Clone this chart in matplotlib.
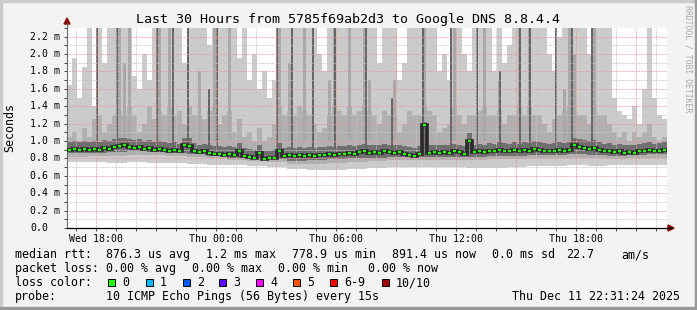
import matplotlib
matplotlib.use("Agg")
import matplotlib.pyplot as plt
import matplotlib.patches as patches
import matplotlib.transforms as mtransforms
from matplotlib.lines import Line2D
import numpy as np

plt.rcParams['font.family'] = 'DejaVu Sans Mono'

W, H = 697, 310

# time axis in hours since Wed 00:00, one bin = 15 min
t_start = 16.55
bin_h = 0.25

# median rtt per bin (ms)
median = [0.90, 0.91, 0.90, 0.91, 0.90, 0.91, 0.90, 0.92, 0.91, 0.93,
          0.94, 0.95, 0.93, 0.92, 0.93, 0.91, 0.92, 0.90, 0.91, 0.90,
          0.89, 0.90, 0.88, 0.95, 0.94, 0.89, 0.87, 0.88, 0.86, 0.85,
          0.85, 0.84, 0.85, 0.84, 0.89, 0.83, 0.82, 0.81, 0.86, 0.79,
          0.80, 0.81, 0.89, 0.83, 0.84, 0.83, 0.84, 0.83, 0.84, 0.83,
          0.84, 0.84, 0.85, 0.84, 0.85, 0.85, 0.86, 0.85, 0.87, 0.88,
          0.86, 0.87, 0.86, 0.88, 0.87, 0.86, 0.87, 0.85, 0.84, 0.83,
          0.85, 1.19, 0.86, 0.87, 0.86, 0.87, 0.86, 0.88, 0.87, 0.85,
          1.00, 0.87, 0.88, 0.87, 0.89, 0.88, 0.90, 0.89, 0.88, 0.90,
          0.88, 0.90, 0.89, 0.91, 0.90, 0.89, 0.88, 0.89, 0.90, 0.89,
          0.90, 0.95, 0.93, 0.92, 0.91, 0.92, 0.90, 0.88, 0.89, 0.87,
          0.88, 0.86, 0.87, 0.86, 0.88, 0.89, 0.90, 0.88, 0.89, 0.90]

# smoke: highest ping per bin
smoke_max = [1.65, 1.95, 1.50, 1.85, 2.30, 1.40, 2.30, 1.90, 2.30, 2.30,
             2.30, 2.30, 2.30, 1.75, 1.60, 2.00, 1.70, 2.30, 2.30, 2.30,
             2.30, 2.30, 2.30, 1.90, 2.30, 2.30, 2.30, 2.30, 2.10, 2.30,
             2.30, 2.30, 2.30, 2.30, 1.95, 2.30, 1.70, 2.00, 1.60, 1.80,
             1.50, 1.70, 2.30, 2.30, 2.30, 2.30, 2.30, 2.30, 2.30, 2.30,
             2.00, 1.80, 2.30, 2.30, 2.30, 2.30, 2.30, 2.30, 2.30, 2.30,
             2.30, 2.30, 1.90, 2.30, 2.30, 2.30, 1.70, 1.90, 2.30, 2.30,
             2.30, 2.30, 2.30, 2.30, 1.80, 2.00, 1.70, 2.30, 2.30, 2.00,
             1.80, 2.30, 2.30, 2.30, 2.30, 1.80, 2.30, 1.90, 2.10, 2.30,
             2.30, 2.30, 2.30, 2.30, 2.30, 2.30, 2.00, 1.80, 2.20, 2.30,
             2.30, 2.30, 2.30, 2.30, 2.00, 2.30, 2.30, 2.30, 2.30, 1.50,
             1.35, 1.30, 1.25, 1.40, 1.20, 1.60, 2.30, 1.50, 1.30, 1.25]

# smoke: second layer top
smoke_hi2 = [1.05, 1.10, 1.00, 1.15, 1.05, 1.25, 1.30, 1.10, 1.20, 1.30,
             1.35, 1.30, 1.40, 1.30, 1.10, 1.20, 1.40, 1.25, 1.35, 1.30,
             1.40, 1.30, 1.35, 1.20, 1.40, 1.30, 1.30, 1.25, 1.35, 1.40,
             1.20, 1.30, 1.35, 1.10, 1.25, 1.05, 1.10, 1.00, 1.15, 1.00,
             1.05, 1.20, 1.40, 1.30, 1.35, 1.30, 1.40, 1.35, 1.30, 1.20,
             1.10, 1.15, 1.30, 1.40, 1.35, 1.30, 1.40, 1.30, 1.35, 1.40,
             1.35, 1.30, 1.20, 1.35, 1.30, 1.30, 1.10, 1.20, 1.35, 1.30,
             1.30, 1.40, 1.35, 1.30, 1.10, 1.15, 1.20, 1.40, 1.30, 1.20,
             1.30, 1.30, 1.35, 1.40, 1.30, 1.30, 1.35, 1.20, 1.30, 1.30,
             1.40, 1.30, 1.40, 1.30, 1.30, 1.20, 1.10, 1.25, 1.30, 1.35,
             1.40, 1.35, 1.30, 1.30, 1.20, 1.40, 1.30, 1.30, 1.20, 1.10,
             1.05, 1.10, 1.00, 1.10, 1.05, 1.10, 1.20, 1.05, 1.00, 1.05]

# smoke: third (darker) layer top
smoke_hi3 = [0.99, 1.00, 0.99, 1.00, 0.99, 1.00, 0.99, 1.01, 1.00, 1.02,
             1.03, 1.04, 1.02, 1.01, 1.02, 1.00, 1.01, 0.99, 1.00, 0.99,
             0.98, 0.99, 0.97, 1.04, 1.03, 0.98, 0.96, 0.97, 0.95, 0.94,
             0.94, 0.93, 0.94, 0.93, 0.98, 0.92, 0.91, 0.90, 0.95, 0.88,
             0.89, 0.90, 0.98, 0.92, 0.93, 0.92, 0.93, 0.92, 0.93, 0.92,
             0.93, 0.93, 0.94, 0.93, 0.94, 0.94, 0.95, 0.94, 0.96, 0.97,
             0.95, 0.96, 0.95, 0.97, 0.96, 0.95, 0.96, 0.94, 0.93, 0.92,
             0.94, 1.22, 0.95, 0.96, 0.95, 0.96, 0.95, 0.97, 0.96, 0.94,
             1.09, 0.96, 0.97, 0.96, 0.98, 0.97, 0.99, 0.98, 0.97, 0.99,
             0.97, 0.99, 0.98, 1.00, 0.99, 0.98, 0.97, 0.98, 0.99, 0.98,
             0.99, 1.04, 1.02, 1.01, 1.00, 1.01, 0.99, 0.97, 0.98, 0.96,
             0.97, 0.95, 0.96, 0.95, 0.97, 0.98, 0.99, 0.97, 0.98, 0.99]

# lower smoke edges, hourly
smoke_lo1 = [0.76, 0.76, 0.75, 0.76, 0.75, 0.75, 0.74, 0.73, 0.72, 0.71,
             0.70, 0.68, 0.67, 0.67, 0.68, 0.69, 0.70, 0.70, 0.70, 0.70,
             0.69, 0.69, 0.70, 0.71, 0.71, 0.72, 0.71, 0.72, 0.73, 0.73]
smoke_lo2 = [0.82, 0.83, 0.83, 0.84, 0.84, 0.83, 0.82, 0.80, 0.78, 0.77,
             0.76, 0.74, 0.74, 0.75, 0.76, 0.77, 0.78, 0.78, 0.78, 0.78,
             0.78, 0.79, 0.79, 0.80, 0.80, 0.81, 0.80, 0.79, 0.80, 0.81]
smoke_lo3 = [0.86, 0.86, 0.87, 0.88, 0.87, 0.86, 0.85, 0.83, 0.81, 0.80,
             0.79, 0.77, 0.78, 0.79, 0.80, 0.81, 0.82, 0.82, 0.82, 0.82,
             0.82, 0.83, 0.83, 0.84, 0.84, 0.85, 0.84, 0.83, 0.84, 0.85]

# single outlier pings (narrow streaks)
mid_streak_t = [19.18, 19.43, 19.68, 21.18, 21.68, 23.18, 23.93, 24.68, 27.18, 27.68,
                28.43, 29.68, 29.93, 30.68, 31.43, 31.68, 32.93, 34.43, 35.93, 37.43,
                38.18, 39.18, 39.68, 41.43, 41.68, 41.93, 42.93]
mid_streak_top = [2.30, 1.90, 2.30, 2.30, 2.30, 1.80, 2.30, 2.30, 2.30, 1.90,
                  2.30, 1.70, 2.30, 2.30, 2.30, 1.70, 1.70, 2.30, 2.30, 2.30,
                  1.70, 2.30, 2.30, 1.60, 2.30, 2.00, 2.30]
dark_streak_t = [18.05, 19.05, 21.05, 21.85, 22.60, 23.65, 24.05, 27.05, 27.80, 28.85,
                 29.95, 31.50, 32.80, 34.35, 35.75, 37.05, 38.20, 39.20, 39.70, 41.00,
                 41.80, 42.80]
dark_streak_top = [2.30, 2.30, 2.30, 2.30, 2.30, 1.60, 2.30, 2.30, 2.30, 2.30,
                   2.30, 2.30, 1.50, 2.30, 2.30, 2.30, 1.80, 2.30, 2.30, 2.30,
                   2.30, 2.30]

x_ticks = [18, 24, 30, 36, 42]
x_labels = ["Wed 18:00", "Thu 00:00", "Thu 06:00", "Thu 12:00", "Thu 18:00"]
y_ticks = [0.0, 0.2, 0.4, 0.6, 0.8, 1.0, 1.2, 1.4, 1.6, 1.8, 2.0, 2.2]

title = "Last 30 Hours from 5785f69ab2d3 to Google DNS 8.8.4.4"
loss_labels = ["0", "1", "2", "3", "4", "5", "6-9", "10/10"]
loss_colors = ["#26ff00", "#00b8ff", "#0059ff", "#5e00ff", "#ff00ff",
               "#ff5500", "#ff0000", "#a10000"]

median = np.array(median)
n = len(median)
edges = t_start + bin_h * np.arange(n + 1)
centers = edges[:-1] + bin_h / 2
lo1 = np.repeat(smoke_lo1, 4)
lo2 = np.repeat(smoke_lo2, 4)
lo3 = np.repeat(smoke_lo3, 4)
hi1 = np.array(smoke_max)
hi2 = np.array(smoke_hi2)
hi3 = np.array(smoke_hi3)

fig = plt.figure(figsize=(W / 100, H / 100), dpi=100, facecolor='#f3f3f3')
ax = fig.add_axes([67 / W, (H - 228) / H, 600 / W, 200 / H])
ax.set_facecolor('white')

# smoke layers
ax.bar(centers, hi1 - lo1, bottom=lo1, width=bin_h, color='#cbcbcb', linewidth=0, antialiased=False, zorder=1)
ax.bar(centers, hi2 - lo2, bottom=lo2, width=bin_h, color='#b0b0b0', linewidth=0, antialiased=False, zorder=1.1)
ax.bar(mid_streak_t, np.array(mid_streak_top) - 1.0, bottom=1.0, width=0.14, color='#a8a8a8',
       linewidth=0, antialiased=False, zorder=1.1)
ax.bar(centers, hi3 - lo3, bottom=lo3, width=bin_h, color='#707070', linewidth=0, antialiased=False, zorder=1.2)
ax.bar(dark_streak_t, np.array(dark_streak_top) - 0.9, bottom=0.9, width=0.07, color='#666666',
       linewidth=0, antialiased=False, zorder=1.2)

# grid on top of the smoke
dots = (0, (0.72, 0.72))
for h in range(17, 47):
    if h % 3 == 0:
        ax.axvline(h, color='#e59a9a', lw=0.72, ls=dots, zorder=2)
    else:
        ax.axvline(h, color='#c4c4c4', lw=0.72, ls=dots, zorder=2)
for k in range(1, 23):
    v = k / 10
    if k % 2 == 0:
        ax.axhline(v, color='#e59a9a', lw=0.72, ls=dots, zorder=2)
    else:
        ax.axhline(v, color='#c4c4c4', lw=0.72, ls=dots, zorder=2)

# median
ax.stairs(median, edges, baseline=None, color='#2a2a2a', lw=2.6, zorder=3)
ax.hlines(median, edges[:-1] + 0.03, edges[1:] - 0.03, color=loss_colors[0], lw=1.6, zorder=4)

ax.set_xlim(t_start, t_start + 30)
ax.set_ylim(0, 2.3)
for s in ['top', 'right']:
    ax.spines[s].set_visible(False)
ax.spines['left'].set_color('#666666')
ax.spines['left'].set_linewidth(0.8)
ax.spines['bottom'].set_color('black')
ax.spines['bottom'].set_linewidth(0.9)

ax.set_xticks(x_ticks)
ax.set_xticklabels(x_labels)
ax.set_xticks(range(17, 47), minor=True)
ax.tick_params(axis='x', which='both', direction='out', length=2, width=0.7,
               color='#444444', labelsize=7.1, pad=2.5)
ax.set_yticks(np.arange(0, 2.31, 0.1), minor=True)
ax.set_yticks(y_ticks)
ax.set_yticklabels([])
ax.tick_params(axis='y', which='both', direction='out', length=2, width=0.7, color='#444444')

ytr = mtransforms.blended_transform_factory(fig.transFigure, ax.transData)
for v in y_ticks:
    lab = "0.0" if v == 0 else "%.1f m" % v
    ax.text(30 / W, v, lab, transform=ytr, ha='left', va='center', fontsize=7.1)

# axis extensions with arrows
fig.add_artist(Line2D([67 / W, 67 / W], [1 - 28 / H, 1 - 23 / H], color='#666666', lw=0.8))
fig.add_artist(Line2D([667 / W, 672 / W], [1 - 228 / H, 1 - 228 / H], color='black', lw=0.9))
fig.add_artist(patches.Polygon([[64 / W, 1 - 24 / H], [70 / W, 1 - 24 / H], [67 / W, 1 - 18 / H]],
                               closed=True, color='#8b0000', transform=fig.transFigure))
fig.add_artist(patches.Polygon([[668 / W, 1 - 225 / H], [668 / W, 1 - 231 / H], [674 / W, 1 - 228 / H]],
                               closed=True, color='#8b0000', transform=fig.transFigure))

# title and labels
fig.text(0.5, 1 - 19 / H, title, ha='center', va='center', fontsize=9.6)
fig.text(10 / W, 1 - 127 / H, "Seconds", rotation=90, ha='center', va='center', fontsize=8.4)
fig.text(688 / W, 1 - 59 / H, "RRDTOOL / TOBI OETIKER", rotation=270, ha='center', va='center',
         fontsize=5.9, color='#a8a8a8')

# legend block
fs = 8.4
def ftxt(x, y, s):
    fig.text(x / W, 1 - y / H, s, ha='left', va='center', fontsize=fs)

y1, y2, y3, y4 = 254.5, 268.5, 282.5, 296.5
ftxt(15, y1, "median rtt:")
ftxt(106, y1, "876.3 us avg")
ftxt(206, y1, "1.2 ms max")
ftxt(292, y1, "778.9 us min")
ftxt(392, y1, "891.4 us now")
ftxt(492, y1, "0.0 ms sd")
ftxt(566, y1, "22.7")
ftxt(621, y1, "am/s")

ftxt(15, y2, "packet loss:")
ftxt(106, y2, "0.00 % avg")
ftxt(192, y2, "0.00 % max")
ftxt(278, y2, "0.00 % min")
ftxt(368, y2, "0.00 % now")

ftxt(15, y3, "loss color:")
box_x = [108, 146, 183, 219, 256, 293, 330, 382]
lab_x = [122, 160, 197, 233, 270, 307, 344, 396]
for bx, lx, lab, col in zip(box_x, lab_x, loss_labels, loss_colors):
    fig.add_artist(patches.Rectangle((bx / W, 1 - 286 / H), 7 / W, 7 / H, facecolor=col,
                                     edgecolor='black', lw=0.7, transform=fig.transFigure))
    ftxt(lx, y3, lab)

ftxt(15, y4, "probe:")
ftxt(106, y4, "10 ICMP Echo Pings (56 Bytes) every 15s")
ftxt(512, y4, "Thu Dec 11 22:31:24 2025")

# 3d frame
fig.add_artist(patches.Rectangle((0, 0), 2 / W, 1, color='#cbcbcb', transform=fig.transFigure))
fig.add_artist(patches.Rectangle((0, 1 - 2 / H), 1, 2 / H, color='#cbcbcb', transform=fig.transFigure))
fig.add_artist(patches.Rectangle((1 - 2 / W, 0), 2 / W, 1, color='#999999', transform=fig.transFigure))
fig.add_artist(patches.Rectangle((0, 0), 1, 3 / H, color='#999999', transform=fig.transFigure))

fig.savefig("out.png", dpi=100, facecolor=fig.get_facecolor())
